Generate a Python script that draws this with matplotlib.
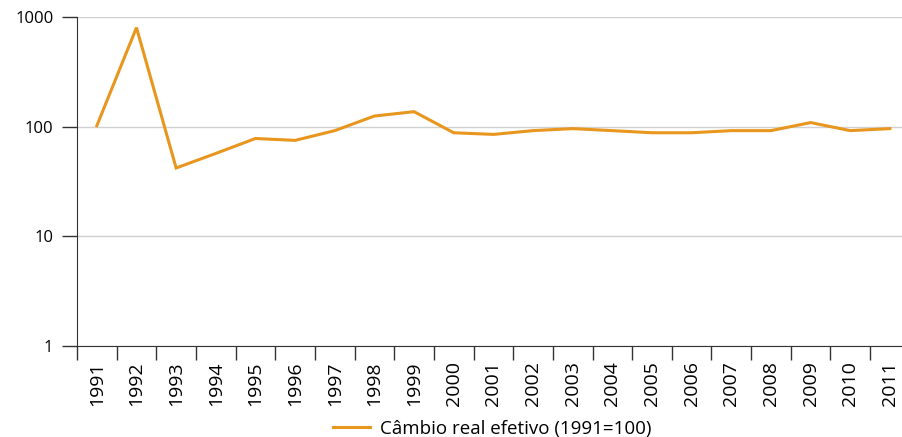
import matplotlib
matplotlib.use("Agg")
import matplotlib.pyplot as plt
from matplotlib.ticker import FixedLocator, NullLocator

plt.rcParams['font.family'] = ['Open Sans', 'DejaVu Sans']

years = [str(y) for y in range(1991, 2012)]
cambio = [102, 800, 42, 57, 78, 75, 92, 125, 137, 88, 85, 92, 96, 92, 88, 88, 92, 92, 109, 92, 96]

LINE_COLOR = "#E8961E"

fig = plt.figure(figsize=(9.03, 4.37), dpi=100)
ax = fig.add_axes([77 / 903, 1 - 346 / 437, 826 / 903, (346 - 17) / 437])

x = list(range(len(years)))
ax.plot(x, cambio, color=LINE_COLOR, lw=2.2, label="Câmbio real efetivo (1991=100)",
        solid_joinstyle="miter")

ax.set_yscale("log")
ax.set_ylim(1, 1000)
ax.set_xlim(-0.5, len(years) - 0.67)

# y axis
ax.yaxis.set_major_locator(FixedLocator([1, 10, 100, 1000]))
ax.yaxis.set_minor_locator(NullLocator())
ax.set_yticklabels(["1", "10", "100", "1000"])
ax.tick_params(axis="y", length=11, width=1, color="#333333", labelsize=12, pad=6)
ax.grid(axis="y", color="#d0d0d0", lw=1)

# x axis: ticks at category boundaries, labels at centres
ax.set_xticks([i - 0.5 for i in x])
ax.set_xticklabels([])
ax.set_xticks(x, minor=True)
ax.set_xticklabels(years, minor=True, rotation=90, fontsize=14)
ax.tick_params(axis="x", which="major", length=10, width=1, color="#333333")
ax.tick_params(axis="x", which="minor", length=0, pad=11)

for s in ["top", "right"]:
    ax.spines[s].set_visible(False)
ax.spines["left"].set_color("#333333")
ax.spines["bottom"].set_color("#333333")
ax.set_axisbelow(True)

fig.legend(loc="lower center", bbox_to_anchor=(492 / 903, -0.04), frameon=False,
           fontsize=13.5, handlelength=2.0, handletextpad=0.5)

fig.savefig("out.png", dpi=100)
